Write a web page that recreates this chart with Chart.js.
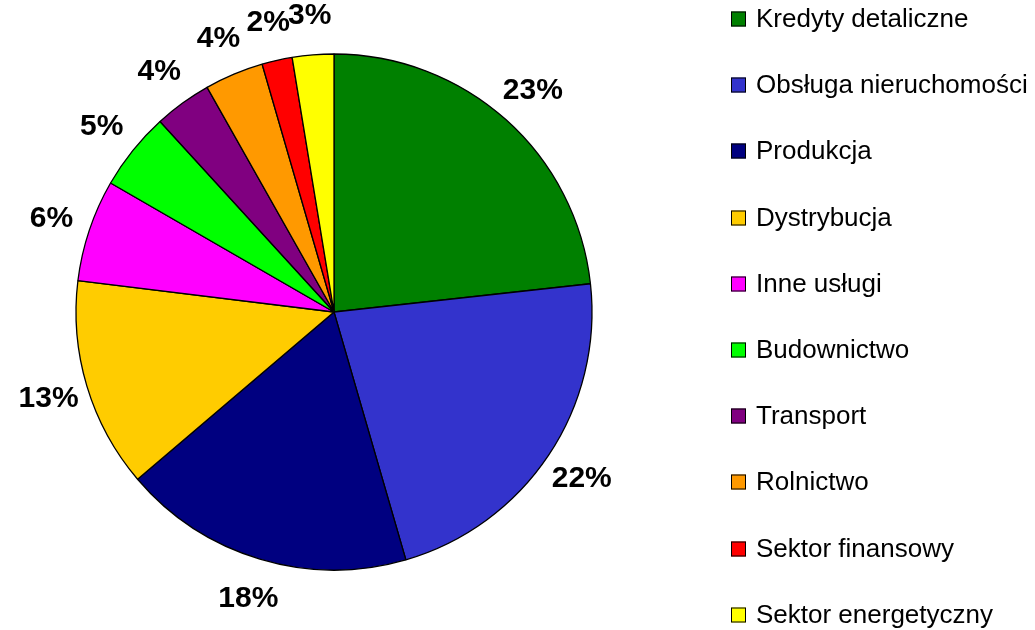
<!DOCTYPE html>
<html>
<head>
<meta charset="utf-8">
<script src="https://cdn.jsdelivr.net/npm/chart.js@4/dist/chart.umd.min.js"></script>
<style>
html,body{margin:0;padding:0;background:#fff;}
#wrap{position:relative;width:1035px;height:630px;}
</style>
</head>
<body>
<div id="wrap"><canvas id="c" width="1035" height="630"></canvas></div>
<script>
const categories = ["Kredyty detaliczne","Obsługa nieruchomości","Produkcja","Dystrybucja","Inne usługi","Budownictwo","Transport","Rolnictwo","Sektor finansowy","Sektor energetyczny"];
const shares = [23.3, 22.3, 18.3, 13.2, 6.4, 4.9, 3.6, 3.7, 1.9, 2.6];
const colors = ["#008000","#3333CC","#000080","#FFCC00","#FF00FF","#00FF00","#800080","#FF9900","#FF0000","#FFFF00"];

const total = shares.reduce((a,b)=>a+b,0);

const labelPlugin = {
  id: 'pieLabels',
  afterDatasetsDraw(chart) {
    const ctx = chart.ctx;
    const meta = chart.getDatasetMeta(0);
    ctx.save();
    ctx.font = 'bold 30px "Liberation Sans", Arial, sans-serif';
    ctx.fillStyle = '#000';
    ctx.textAlign = 'center';
    ctx.textBaseline = 'middle';
    meta.data.forEach((arc, i) => {
      const mid = (arc.startAngle + arc.endAngle) / 2;
      const r = arc.outerRadius + 40;
      const x = arc.x + Math.cos(mid) * r;
      const y = arc.y + Math.sin(mid) * r;
      const pct = Math.round(chart.data.datasets[0].data[i] / total * 100);
      ctx.fillText(pct + '%', x, y + 1);
    });
    ctx.restore();
  }
};

const legendPlugin = {
  id: 'customLegend',
  afterDraw(chart) {
    const ctx = chart.ctx;
    ctx.save();
    ctx.font = '26px "Liberation Sans", Arial, sans-serif';
    ctx.textAlign = 'left';
    ctx.textBaseline = 'middle';
    const x0 = 731, y0 = 19, step = 66.2, box = 15;
    chart.data.labels.forEach((lab, i) => {
      const y = Math.round(y0 + i * step);
      ctx.fillStyle = chart.data.datasets[0].backgroundColor[i];
      ctx.fillRect(x0, y - box/2, box, box);
      ctx.lineWidth = 1;
      ctx.strokeStyle = '#000';
      ctx.strokeRect(x0 + 0.5, y - box/2 + 0.5, box - 1, box - 1);
      ctx.fillStyle = '#000';
      ctx.fillText(lab, x0 + 25, y + 1);
    });
    ctx.restore();
  }
};

new Chart(document.getElementById('c'), {
  type: 'pie',
  data: {
    labels: categories,
    datasets: [{
      data: shares,
      backgroundColor: colors,
      borderColor: '#000',
      borderWidth: 1.3,
      hoverOffset: 0
    }]
  },
  options: {
    responsive: false,
    animation: false,
    radius: 258,
    layout: { padding: { left: 76, right: 443, top: 54, bottom: 60 } },
    plugins: {
      legend: { display: false },
      tooltip: { enabled: false }
    }
  },
  plugins: [labelPlugin, legendPlugin]
});
</script>
</body>
</html>
